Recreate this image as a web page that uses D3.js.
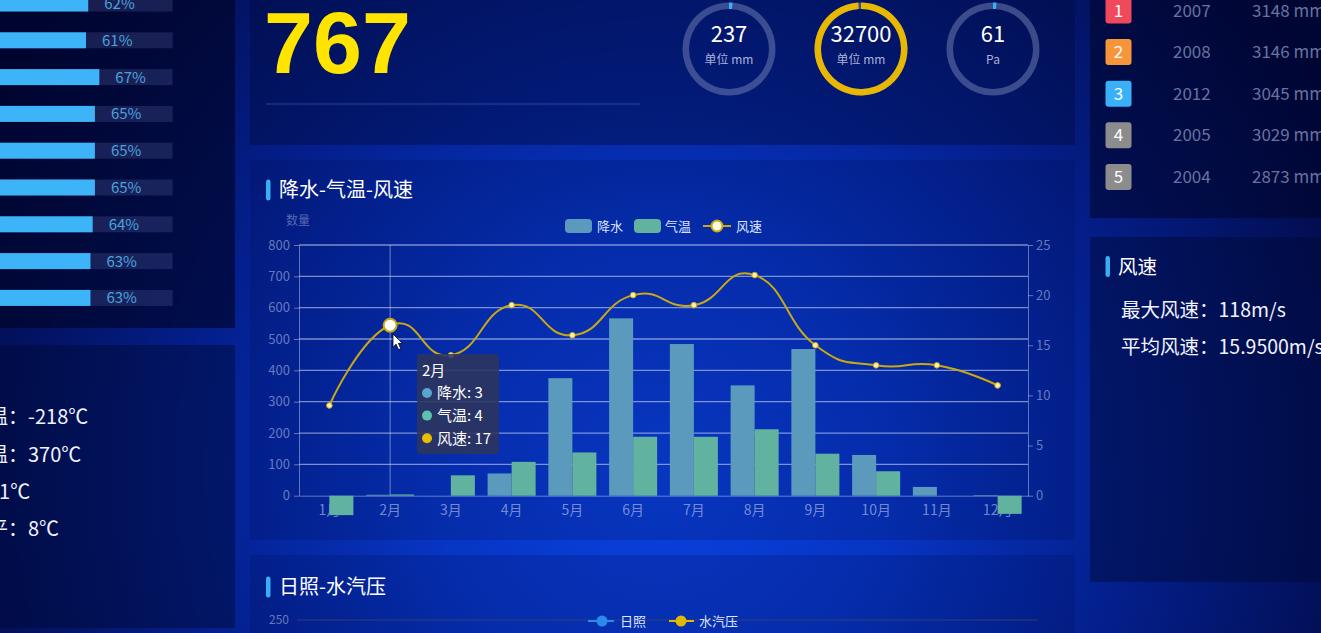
<!DOCTYPE html>
<html><head><meta charset="utf-8">
<script src="https://cdn.jsdelivr.net/npm/d3@7/dist/d3.min.js"></script>
<style>
html,body{margin:0;padding:0;width:1321px;height:633px;overflow:hidden;background:#031060;}
svg{display:block;}
text{font-family:"Noto Sans CJK SC","Noto Sans",sans-serif;}
</style></head><body>
<svg id="c" width="1321" height="633"></svg>
<script>
// ---------- data ----------
const months = ["1月","2月","3月","4月","5月","6月","7月","8月","9月","10月","11月","12月"];
const precipitation = [0,3,0,71,375,566,484,352,468,130,28,2];
const temperature = [-62,4,65,108,138,188,188,212,134,78,0,-58];
const windSpeed = [9,17,14,19,16,20,19,22,15,13,13,11];
const leftTicks = [0,100,200,300,400,500,600,700,800];
const rightTicks = [0,5,10,15,20,25];
const seriesNames = ["降水","气温","风速"];
const tooltipIndex = 1;

const humidityPercents = [62,61,67,65,65,65,64,63,63];
const tempStatLabels = ["最低气温：","最高气温：","温差：","平均水平："];
const tempStatValues = ["-218℃","370℃","21℃","8℃"];

const bigNumber = 767;
const gaugeValues = [237,32700,61];
const gaugeUnits = ["单位 mm","单位 mm","Pa"];
const gaugeMax = 33000;

const rankNumbers = [1,2,3,4,5];
const rankYears = [2007,2008,2012,2005,2004];
const rankValues = [3148,3146,3045,3029,2873];

const windLabels = ["最大风速：","平均风速："];
const windValues = ["118m/s","15.9500m/s"];

const sunTicks = [0,50,100,150,200,250];
const sunSeries = ["日照","水汽压"];

// ---------- styles ----------
const C = {
  precip:"#5b9abd", temp:"#61b3a0", wind:"#c9a812",
  axisText:"rgba(190,200,235,0.55)", grid:"rgba(210,218,248,0.58)",
  accent:"#3aaef5"
};
const rankColors = ["#f0495b","#f7953b","#3ab0f8","#8c8c8c","#8c8c8c"];
const gaugeColors = ["#3ab0f8","#e8b800","#3ab0f8"];

const W=1321,H=633;
const svg = d3.select("#c");
const defs = svg.append("defs");
const bg = defs.append("radialGradient").attr("id","bg")
  .attr("gradientUnits","userSpaceOnUse").attr("cx",660).attr("cy",470).attr("r",760);
[[0,"#0a42e0"],[0.3,"#0735c4"],[0.62,"#041f8c"],[1,"#020a44"]].forEach(s=>
  bg.append("stop").attr("offset",s[0]).attr("stop-color",s[1]));
svg.append("rect").attr("width",W).attr("height",H).attr("fill","url(#bg)");

// panels
const panels = [
  {x:-10,y:-10,w:245,h:338,f:"rgba(0,4,35,0.62)"},
  {x:-10,y:345,w:245,h:283,f:"rgba(0,8,50,0.45)"},
  {x:250,y:-10,w:825,h:155,f:"rgba(0,10,60,0.42)"},
  {x:250,y:160,w:825,h:380,f:"rgba(0,15,80,0.22)"},
  {x:250,y:555,w:825,h:90,f:"rgba(0,15,80,0.22)"},
  {x:1090,y:-10,w:240,h:228,f:"rgba(0,4,40,0.55)"},
  {x:1090,y:237,w:240,h:345,f:"rgba(0,8,50,0.45)"}
];
svg.append("g").selectAll("rect").data(panels).join("rect")
  .attr("x",d=>d.x).attr("y",d=>d.y).attr("width",d=>d.w).attr("height",d=>d.h).attr("fill",d=>d.f);

// ---------- left top: horizontal percent bars ----------
const hx = d3.scaleLinear().domain([0,100]).range([-49.4,172.6]);
const hy = d3.scalePoint().domain(d3.range(humidityPercents.length)).range([3.5,3.5+8*36.8]);
const lt = svg.append("g");
lt.selectAll(".track").data(humidityPercents).join("rect")
  .attr("x",hx(0)).attr("y",(d,i)=>hy(i)-8).attr("width",hx(100)-hx(0)).attr("height",16)
  .attr("fill","rgba(120,130,200,0.2)");
lt.selectAll(".bar").data(humidityPercents).join("rect")
  .attr("x",hx(0)).attr("y",(d,i)=>hy(i)-8).attr("width",d=>hx(d)-hx(0)).attr("height",16)
  .attr("fill","#3db3f8");
lt.selectAll("text").data(humidityPercents).join("text")
  .attr("x",d=>hx(d)+16).attr("y",(d,i)=>hy(i)).attr("dy","0.36em")
  .attr("fill","#4aa2dd").attr("font-size",15).text(d=>d+"%");

// ---------- left bottom: temperature stats ----------
const lb = svg.append("g");
const statY = d3.scalePoint().domain(d3.range(tempStatLabels.length)).range([417,529]);
lb.selectAll("text").data(tempStatLabels).join("text")
  .attr("x",-72).attr("y",(d,i)=>statY(i)).attr("dy","0.36em")
  .attr("fill","#f0f3ff").attr("font-size",20).text((d,i)=>d+tempStatValues[i]);

// ---------- top center ----------
svg.append("text").attr("x",264).attr("y",73).attr("fill","#ffe400")
  .attr("font-weight","bold").attr("font-size",88)
  .style("font-family","'Liberation Sans',Arial,sans-serif").text(bigNumber);
svg.append("line").attr("x1",266).attr("x2",640).attr("y1",104).attr("y2",104)
  .attr("stroke","rgba(90,120,220,0.45)").attr("stroke-width",1);

const gx = d3.scalePoint().domain(d3.range(gaugeValues.length)).range([729,993]);
const ring = d3.arc().innerRadius(40).outerRadius(46.5).startAngle(0);
const gg = svg.append("g").selectAll("g").data(gaugeValues).join("g")
  .attr("transform",(d,i)=>`translate(${gx(i)},49)`);
gg.append("path").attr("d",ring({endAngle:2*Math.PI})).attr("fill","rgba(110,122,175,0.55)");
gg.append("path").attr("d",d=>ring({endAngle:2*Math.PI*Math.max(d/gaugeMax,0.012)}))
  .attr("fill",(d,i)=>gaugeColors[i]);
gg.append("text").attr("text-anchor","middle").attr("y",-15).attr("dy","0.36em")
  .attr("fill","#ffffff").attr("font-size",22).text(d=>d);
gg.append("text").attr("text-anchor","middle").attr("y",11).attr("dy","0.36em")
  .attr("fill","rgba(225,230,255,0.75)").attr("font-size",12).text((d,i)=>gaugeUnits[i]);

// ---------- right top: ranking ----------
const ry = d3.scalePoint().domain(d3.range(rankYears.length)).range([10.5,10.5+4*41.6]);
const rk = svg.append("g").selectAll("g").data(rankYears).join("g")
  .attr("transform",(d,i)=>`translate(0,${ry(i)})`);
rk.append("rect").attr("x",1105.5).attr("y",-13).attr("width",26).attr("height",26).attr("rx",3)
  .attr("fill",(d,i)=>rankColors[i]);
rk.append("text").attr("x",1118.5).attr("text-anchor","middle").attr("dy","0.36em")
  .attr("fill","#fff").attr("font-size",17).text((d,i)=>rankNumbers[i]);
rk.append("text").attr("x",1173).attr("dy","0.36em").attr("fill","#67739f").attr("font-size",17).text(d=>d);
rk.append("text").attr("x",1252).attr("dy","0.36em").attr("fill","#67739f").attr("font-size",17)
  .text((d,i)=>rankValues[i]+" mm");

// ---------- right middle: wind ----------
svg.append("rect").attr("x",1105.5).attr("y",256).attr("width",4.5).attr("height",21).attr("rx",2.2).attr("fill",C.accent);
svg.append("text").attr("x",1118).attr("y",267).attr("dy","0.36em").attr("fill","#fff").attr("font-size",19.5).text("风速");
const wy = d3.scalePoint().domain([0,1]).range([310,347]);
svg.append("g").selectAll("text").data(windLabels).join("text")
  .attr("x",1121).attr("y",(d,i)=>wy(i)).attr("dy","0.36em").attr("fill","#f0f3ff").attr("font-size",19.5)
  .text((d,i)=>d+windValues[i]);

// ---------- main chart ----------
function panelTitle(y,text){
  svg.append("rect").attr("x",266).attr("y",y-10.5).attr("width",4.5).attr("height",21).attr("rx",2.2).attr("fill",C.accent);
  svg.append("text").attr("x",279).attr("y",y).attr("dy","0.36em").attr("fill","#fff").attr("font-size",20).text(text);
}
panelTitle(190,"降水-气温-风速");

const M = {left:299,right:1028,top:245,bottom:495.7};
const x = d3.scaleBand().domain(months).range([M.left,M.right]);
const yL = d3.scaleLinear().domain([0,800]).range([M.bottom,M.top]);
const yR = d3.scaleLinear().domain([0,25]).range([M.bottom,M.top]);
const sub = d3.scaleBand().domain(["p","t"]).range([0,x.bandwidth()]).paddingOuter(0.265);

const chart = svg.append("g");
// grid
chart.append("g").selectAll("line").data(leftTicks.filter(t=>t>0)).join("line")
  .attr("x1",M.left).attr("x2",M.right).attr("y1",d=>yL(d)).attr("y2",d=>yL(d))
  .attr("stroke",C.grid).attr("stroke-width",1.3);
// axis pointer
chart.append("line").attr("x1",x(months[tooltipIndex])+x.bandwidth()/2).attr("x2",x(months[tooltipIndex])+x.bandwidth()/2)
  .attr("y1",M.top).attr("y2",M.bottom).attr("stroke","rgba(210,220,250,0.5)").attr("stroke-width",1);

function styleAxis(g,fs){
  g.selectAll(".domain").attr("stroke","rgba(190,200,240,0.5)");
  g.selectAll(".tick line").attr("stroke","rgba(190,200,240,0.5)");
  g.selectAll("text").attr("fill",C.axisText).attr("font-size",fs)
    .style("font-family","'Noto Sans CJK SC','Noto Sans',sans-serif");
}
chart.append("g").attr("transform",`translate(${M.left},0)`)
  .call(d3.axisLeft(yL).tickValues(leftTicks).tickSize(5).tickPadding(4).tickSizeOuter(0))
  .call(g=>styleAxis(g,13));
chart.append("g").attr("transform",`translate(${M.right},0)`)
  .call(d3.axisRight(yR).tickValues(rightTicks).tickSize(5).tickPadding(3).tickSizeOuter(0))
  .call(g=>styleAxis(g,13));
chart.append("g").attr("transform",`translate(0,${M.bottom})`)
  .call(d3.axisBottom(x).tickSize(0).tickPadding(9).tickSizeOuter(0))
  .call(g=>styleAxis(g,14))
  .call(g=>g.selectAll("text").attr("fill","rgba(190,200,235,0.62)"));

chart.append("text").attr("x",286).attr("y",221).attr("dy","0.36em").attr("fill","rgba(190,200,235,0.45)")
  .attr("font-size",12).text("数量");

// bars
function bars(vals,key,color){
  chart.append("g").selectAll("rect").data(vals).join("rect")
    .attr("x",(d,i)=>x(months[i])+sub(key)).attr("width",sub.bandwidth())
    .attr("y",d=>Math.min(yL(d),yL(0))).attr("height",d=>Math.abs(yL(d)-yL(0)))
    .attr("fill",color);
}
bars(precipitation,"p",C.precip);
bars(temperature,"t",C.temp);

// wind line
const line = d3.line().x((d,i)=>x(months[i])+x.bandwidth()/2).y(d=>yR(d)).curve(d3.curveCardinal.tension(-0.5));
chart.append("path").attr("d",line(windSpeed)).attr("fill","none").attr("stroke",C.wind).attr("stroke-width",2);
chart.append("g").selectAll("circle").data(windSpeed).join("circle")
  .attr("cx",(d,i)=>x(months[i])+x.bandwidth()/2).attr("cy",d=>yR(d))
  .attr("r",(d,i)=>i===tooltipIndex?6.5:2.8)
  .attr("fill",(d,i)=>i===tooltipIndex?"#ffffff":"#fdf2b0")
  .attr("stroke",C.wind).attr("stroke-width",(d,i)=>i===tooltipIndex?2:1);

// legend
const leg = svg.append("g").attr("font-size",13);
leg.append("rect").attr("x",565).attr("y",219).attr("width",27).attr("height",14).attr("rx",4).attr("fill",C.precip);
leg.append("text").attr("x",597).attr("y",226).attr("dy","0.36em").attr("fill","#dde4ff").text(seriesNames[0]);
leg.append("rect").attr("x",634).attr("y",219).attr("width",27).attr("height",14).attr("rx",4).attr("fill",C.temp);
leg.append("text").attr("x",665).attr("y",226).attr("dy","0.36em").attr("fill","#dde4ff").text(seriesNames[1]);
leg.append("line").attr("x1",703).attr("x2",731).attr("y1",226).attr("y2",226).attr("stroke",C.wind).attr("stroke-width",2);
leg.append("circle").attr("cx",717).attr("cy",226).attr("r",5.5).attr("fill","#fffbe0").attr("stroke",C.wind).attr("stroke-width",2);
leg.append("text").attr("x",736).attr("y",226).attr("dy","0.36em").attr("fill","#dde4ff").text(seriesNames[2]);

// tooltip
const tt = svg.append("g").attr("transform","translate(417,354)");
tt.append("rect").attr("width",82).attr("height",100).attr("rx",4).attr("fill","rgba(45,52,92,0.88)");
tt.append("text").attr("x",5).attr("y",17).attr("dy","0.36em").attr("fill","#fff").attr("font-size",15).text(months[tooltipIndex]);
const ttVals = [precipitation[tooltipIndex],temperature[tooltipIndex],windSpeed[tooltipIndex]];
const ttCols = ["#5aa4cf","#5fc2ad","#e7bd00"];
const ttr = tt.selectAll(".r").data(ttVals).join("g").attr("transform",(d,i)=>`translate(0,${39+i*22.6})`);
ttr.append("circle").attr("cx",10).attr("r",5).attr("fill",(d,i)=>ttCols[i]);
ttr.append("text").attr("x",20).attr("dy","0.36em").attr("fill","#fff").attr("font-size",15)
  .text((d,i)=>seriesNames[i]+": "+d);

// cursor
svg.append("path").attr("transform","translate(393,334) scale(0.78)")
  .attr("d","M0,0 L0,17 L4,13 L7,20 L10,19 L7,12 L12,12 Z")
  .attr("fill","#fff").attr("stroke","#000").attr("stroke-width",1);

// ---------- bottom chart ----------
panelTitle(587,"日照-水汽压");
const yS = d3.scaleLinear().domain([0,250]).range([620+5*36,620]);
svg.append("g").selectAll("line").data(sunTicks).join("line")
  .attr("x1",297).attr("x2",1038).attr("y1",d=>yS(d)).attr("y2",d=>yS(d))
  .attr("stroke","rgba(70,70,95,0.75)").attr("stroke-width",1);
svg.append("g").selectAll("text").data(sunTicks).join("text")
  .attr("x",289).attr("y",d=>yS(d)).attr("dy","0.36em").attr("text-anchor","end")
  .attr("fill",C.axisText).attr("font-size",12).text(d=>d);
const sunCols = ["#2a8be8","#e2b800"];
const sl = svg.append("g").attr("font-size",13);
sl.append("line").attr("x1",588).attr("x2",614).attr("y1",621).attr("y2",621).attr("stroke",sunCols[0]).attr("stroke-width",2);
sl.append("circle").attr("cx",602).attr("cy",621).attr("r",5.5).attr("fill",sunCols[0]);
sl.append("text").attr("x",620).attr("y",621).attr("dy","0.36em").attr("fill","#dde4ff").text(sunSeries[0]);
sl.append("line").attr("x1",669).attr("x2",694).attr("y1",621).attr("y2",621).attr("stroke",sunCols[1]).attr("stroke-width",2);
sl.append("circle").attr("cx",681).attr("cy",621).attr("r",5.5).attr("fill",sunCols[1]);
sl.append("text").attr("x",699).attr("y",621).attr("dy","0.36em").attr("fill","#dde4ff").text(sunSeries[1]);
</script>
</body></html>
